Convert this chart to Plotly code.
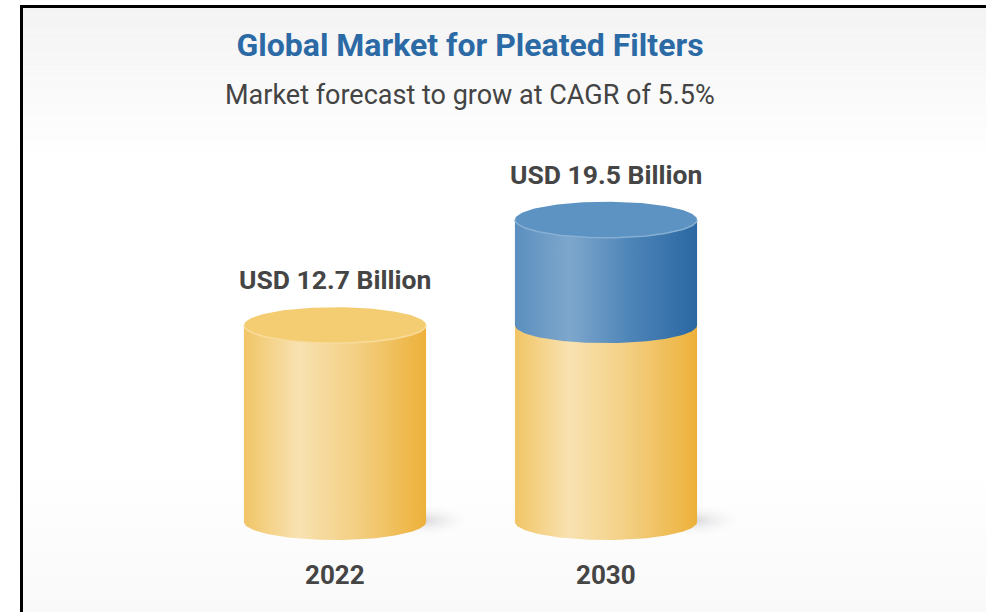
import numpy as np
import plotly.graph_objects as go

# ---- data ----
years = ["2022", "2030"]
market_usd_bn = [12.7, 19.5]
value_labels = ["USD 12.7 Billion", "USD 19.5 Billion"]
title_text = "Global Market for Pleated Filters"
subtitle_text = "Market forecast to grow at CAGR of 5.5%"

# ---- style ----
W, H = 986, 612
HALF_W = 0.336        # cylinder half width (x units)
CAP = 1.16            # elliptical cap depth (value units)
FONT = "Roboto"
YELLOW_BODY = [[0, "#f1c566"], [0.3, "#f8e2b1"], [0.62, "#f3cf82"], [1, "#edb13a"]]
BLUE_BODY = [[0, "#5b8fbf"], [0.3, "#7ea7cc"], [0.62, "#4f86b9"], [1, "#2a67a2"]]
YELLOW_TOP = "#f4cd73"
YELLOW_RIM = "#f8dc9c"
BLUE_TOP = "#5c93c3"
BLUE_RIM = "#86afd3"

t = np.linspace(0, np.pi, 80)

fig = go.Figure()


def body(cx, y0, y1, scale):
    """Cylinder side wall from y0 up to y1 with a rounded bottom edge."""
    xs = [cx - HALF_W, cx + HALF_W] + list(cx + HALF_W * np.cos(t)) + [cx - HALF_W]
    ys = [y1, y1] + list(y0 - CAP * np.sin(t)) + [y1]
    fig.add_trace(go.Scatter(
        x=xs, y=ys, mode="lines", line=dict(width=0), fill="toself",
        fillgradient=dict(type="horizontal", colorscale=scale),
        hoverinfo="skip", showlegend=False))


def cap(cx, y, color, rim):
    tt = np.linspace(0, 2 * np.pi, 160)
    fig.add_trace(go.Scatter(
        x=cx + HALF_W * np.cos(tt), y=y + CAP * np.sin(tt), mode="lines",
        line=dict(width=0), fill="toself", fillcolor=color,
        hoverinfo="skip", showlegend=False))
    # light front rim of the top face
    fig.add_trace(go.Scatter(
        x=cx + HALF_W * np.cos(-t), y=y + CAP * np.sin(-t), mode="lines",
        line=dict(width=1.5, color=rim), hoverinfo="skip", showlegend=False))


def shadow(cx):
    tt = np.linspace(0, 2 * np.pi, 120)
    fig.add_trace(go.Scatter(
        x=cx + HALF_W * 0.95 + 0.2 * np.cos(tt), y=0.1 + 1.1 * np.sin(tt),
        mode="lines", line=dict(width=0), fill="toself",
        fillgradient=dict(type="radial", colorscale=[[0, "rgba(200,200,205,0.75)"],
                                                     [1, "rgba(255,255,255,0)"]]),
        hoverinfo="skip", showlegend=False))


base = market_usd_bn[0]
for i, (yr, v) in enumerate(zip(years, market_usd_bn)):
    shadow(i)
    if v > base:
        body(i, 0, base, YELLOW_BODY)
        body(i, base, v, BLUE_BODY)
        cap(i, v, BLUE_TOP, BLUE_RIM)
    else:
        body(i, 0, v, YELLOW_BODY)
        cap(i, v, YELLOW_TOP, YELLOW_RIM)

annotations = []
for i, (yr, v, lab) in enumerate(zip(years, market_usd_bn, value_labels)):
    annotations.append(dict(x=i, y=v + CAP, xref="x", yref="y", text=f"<b>{lab}</b>",
                            showarrow=False, yanchor="bottom", yshift=10,
                            font=dict(family=FONT, size=26.5, color="#454545")))
    annotations.append(dict(x=i, y=-CAP, xref="x", yref="y", text=f"<b>{yr}</b>",
                            showarrow=False, yanchor="top", yshift=-18,
                            font=dict(family=FONT, size=26, color="#454545")))

annotations.append(dict(x=470 / W, y=1 - 95 / H, xref="paper", yref="paper",
                        text=subtitle_text, showarrow=False, yanchor="middle",
                        font=dict(family=FONT, size=27, color="#444444")))

# panel background: grey fading to white at top, slight grey at bottom
shapes = [dict(type="rect", xref="paper", yref="paper", x0=0, x1=1, y0=0, y1=1,
               fillcolor="#ffffff", line_width=0, layer="below")]
n = 24
x_left = 23 / W
for k in range(n):
    a = 8 + k * (160 - 8) / n
    b = 8 + (k + 1) * (160 - 8) / n
    g = int(round(243 + (255 - 243) * (k + 0.5) / n))
    shapes.append(dict(type="rect", xref="paper", yref="paper", x0=x_left, x1=1,
                       y0=1 - b / H, y1=1 - a / H, fillcolor=f"rgb({g},{g},{g})",
                       line_width=0, layer="below"))
for k in range(n):
    a = 470 + k * (612 - 470) / n
    b = 470 + (k + 1) * (612 - 470) / n
    g = int(round(255 - (255 - 249) * (k + 0.5) / n))
    shapes.append(dict(type="rect", xref="paper", yref="paper", x0=x_left, x1=1,
                       y0=1 - b / H, y1=1 - a / H, fillcolor=f"rgb({g},{g},{g})",
                       line_width=0, layer="below"))
# frame lines
shapes.append(dict(type="rect", xref="paper", yref="paper", x0=20 / W, x1=1,
                   y0=1 - 8 / H, y1=1 - 5 / H, fillcolor="#000000", line_width=0))
shapes.append(dict(type="rect", xref="paper", yref="paper", x0=20 / W, x1=23 / W,
                   y0=0, y1=1 - 5 / H, fillcolor="#000000", line_width=0))

px_per_unit = 15.5
zero_px = 522
fig.update_layout(
    width=W, height=H,
    margin=dict(l=0, r=0, t=0, b=0),
    paper_bgcolor="#ffffff", plot_bgcolor="rgba(0,0,0,0)",
    title=dict(text=f"<b>{title_text}</b>", x=470 / W, xanchor="center",
               y=1 - 45 / H, yanchor="middle",
               font=dict(family=FONT, size=32, color="#2b6aa5")),
    xaxis=dict(range=[-335 / 271, (W - 335) / 271], visible=False, fixedrange=True),
    yaxis=dict(range=[-(H - zero_px) / px_per_unit, zero_px / px_per_unit],
               visible=False, fixedrange=True),
    annotations=annotations, shapes=shapes, showlegend=False,
)

fig.write_html("out.html")
